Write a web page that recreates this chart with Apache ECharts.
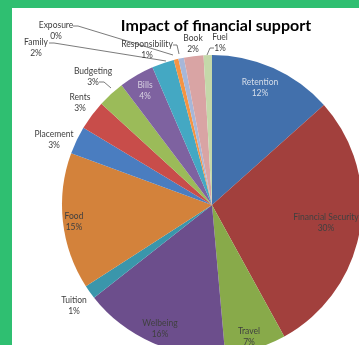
<!DOCTYPE html>
<html><head><meta charset="utf-8">
<script src="https://cdn.jsdelivr.net/npm/echarts@6/dist/echarts.min.js"></script>
<style>html,body{margin:0;padding:0;background:#2fbf71}#c{width:359px;height:345px}</style>
</head><body><div id="c"></div>
<script>
// Categories, clockwise from 12 o'clock
const categories = ['Retention','Financial Security','Travel','Welbeing','Tuition','Food','Placement','Rents','Budgeting','Bills','Family','Exposure','Responsibility','Book','Fuel'];
// Slice sizes
const sliceValues = [13.4, 28.6, 6.6, 15.8, 1.5, 14.7, 3.0, 3.2, 2.9, 3.8, 2.4, 0.5, 0.6, 2.1, 0.9];
// Percent labels as printed on the chart
const labelPercents = ['12%','30%','7%','16%','1%','15%','3%','3%','3%','4%','2%','0%','1%','2%','1%'];

const colors = ['#4270AC','#A2403D','#88AA4A','#6C4E8C','#3A96AB','#D3823B','#4A7DC0','#C84D4A','#9BBB59','#7E62A0','#44A8C3','#F59442','#A6B7D9','#D9A4A4','#C4D8A9'];
const labelColors = ['#d6deea','#404040','#404040','#404040','#404040','#404040','#404040','#404040','#404040','#d8d2e2','#404040','#404040','#404040','#404040','#404040'];
// label block centres (px)
const labelPos = [[260,88],[326,223],[249,337],[160,329],[74,306],[74,222],[54,140],[80,103],[93,77],[145,91],[36,48],[56,31],[147,50],[193,44],[220,43]];
// leader lines (px)
const leaders = {
  8: [[99,82],[104,82],[111,88]],
  10: [[49,43],[54,43],[166,61]],
  11: [[73,26],[78,26],[173,55]],
  12: [[173,45],[177,45],[179,54]],
  14: [[214,48],[210,48],[207,55]]
};

const chart = echarts.init(document.getElementById('c'), null, {renderer:'canvas'});
const data = categories.map((name, i) => ({
  name, value: sliceValues[i],
  itemStyle: {color: colors[i]},
  label: {color: labelColors[i]},
  labelLine: {show: !!leaders[i]}
}));
chart.setOption({
  backgroundColor: '#2fbf71',
  animation: false,
  graphic: [{type:'rect', z:-10, shape:{x:12,y:8,width:347,height:337}, style:{fill:'#ffffff'}}],
  title: {
    text: 'Impact of financial support',
    left: 211, top: 13, textAlign: 'center',
    textStyle: {fontFamily: 'Lato', fontWeight: 'bold', fontSize: 16, color: '#000'}
  },
  series: [{
    type: 'pie',
    center: [212, 205],
    radius: 150,
    startAngle: 90,
    clockwise: true,
    avoidLabelOverlap: false,
    data,
    label: {
      show: true,
      formatter: p => p.name + '\n' + labelPercents[p.dataIndex],
      fontFamily: 'Lato', fontSize: 8.5, lineHeight: 10.5, align: 'center'
    },
    labelLine: {show: true, length: 5, length2: 5, lineStyle: {color: '#595959', width: 0.8}},
    labelLayout: p => {
      const i = p.dataIndex;
      const o = {x: labelPos[i][0], y: labelPos[i][1], align: 'center', verticalAlign: 'middle'};
      if (leaders[i]) o.labelLinePoints = leaders[i];
      return o;
    },
    emphasis: {disabled: true}
  }]
});
</script></body></html>
